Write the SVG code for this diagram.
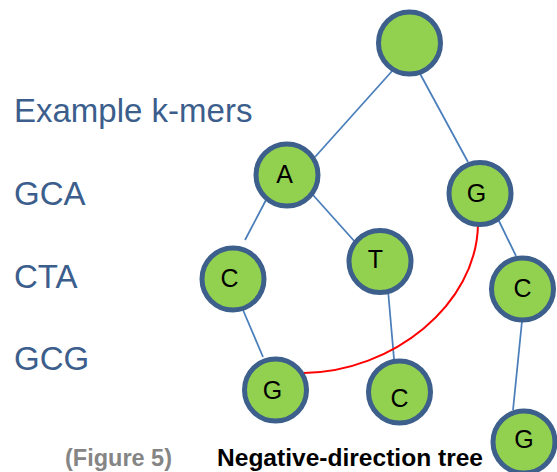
<svg xmlns="http://www.w3.org/2000/svg" width="557" height="472" viewBox="0 0 557 472">
<style>
.node{fill:#92D050;stroke:#3C5F8C;stroke-width:5}
.lbl{font-family:"Liberation Sans",Arial,sans-serif;font-size:25px;fill:#000;text-anchor:middle}
.edge{stroke:#4A7EBB;stroke-width:1.75;fill:none}
.side{font-family:"Liberation Sans",Arial,sans-serif;font-size:33px;fill:#3B5E8C}
.cap{font-family:"Liberation Sans",Arial,sans-serif;font-size:23.5px;font-weight:bold}
</style>
<rect width="557" height="472" fill="#fff"/>
<g id="connectors">
<line class="edge" x1="393" y1="70" x2="315" y2="157"/>
<line class="edge" x1="418" y1="70" x2="468" y2="162"/>
<line class="edge" x1="266" y1="200" x2="245" y2="240"/>
<line class="edge" x1="313" y1="195" x2="356" y2="243"/>
<line class="edge" x1="498" y1="219" x2="516" y2="256"/>
<line class="edge" x1="243" y1="310" x2="263" y2="357"/>
<line class="edge" x1="388" y1="290" x2="394" y2="359"/>
<line class="edge" x1="522" y1="321" x2="513" y2="410"/>
<path d="M478,224 C477,305 392,372 304,373" stroke="#FF0000" stroke-width="2" fill="none"/>
</g>
<g id="root"><circle class="node" cx="409.5" cy="43" r="31"/></g>
<g id="nA"><circle class="node" cx="287" cy="175" r="31"/><text class="lbl" x="284.5" y="183">A</text></g>
<g id="nG1"><circle class="node" cx="480" cy="193.5" r="31"/><text class="lbl" x="476.5" y="202">G</text></g>
<g id="nC1"><circle class="node" cx="233" cy="279" r="31"/><text class="lbl" x="229.5" y="287">C</text></g>
<g id="nT"><circle class="node" cx="380" cy="261.5" r="31"/><text class="lbl" x="375.5" y="268">T</text></g>
<g id="nC2"><circle class="node" cx="522.5" cy="289" r="31"/><text class="lbl" x="522.5" y="297">C</text></g>
<g id="nG2"><circle class="node" cx="275.5" cy="390" r="31"/><text class="lbl" x="272.5" y="399">G</text></g>
<g id="nC3"><circle class="node" cx="399.5" cy="392" r="31"/><text class="lbl" x="399.5" y="407">C</text></g>
<g id="nG3"><circle class="node" cx="524" cy="442" r="31"/><text class="lbl" x="524" y="448">G</text></g>
<g id="labels">
<text class="side" x="14" y="122">Example k-mers</text>
<text class="side" x="14" y="205">GCA</text>
<text class="side" x="14" y="288">CTA</text>
<text class="side" x="14" y="370">GCG</text>
<text class="cap" x="65" y="466" fill="#858585" textLength="107" lengthAdjust="spacingAndGlyphs">(Figure 5)</text>
<text class="cap" x="217" y="466" fill="#000" textLength="266" lengthAdjust="spacingAndGlyphs">Negative-direction tree</text>
</g>
</svg>
